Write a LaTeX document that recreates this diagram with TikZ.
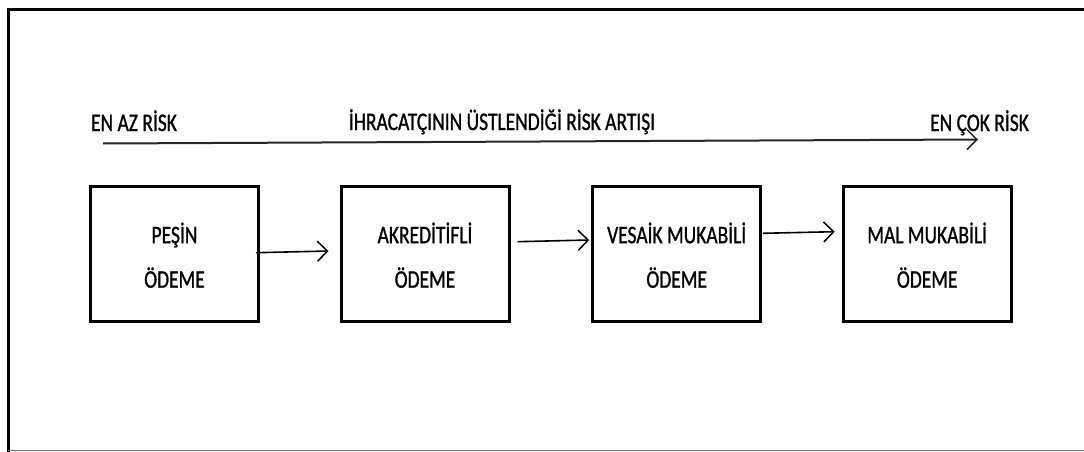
\documentclass[tikz,border=0pt]{standalone}
\usepackage{fontspec}
\setmainfont{Carlito}[FakeStretch=0.77,FakeBold=1]
\usetikzlibrary{arrows.meta,calc}
\begin{document}
\begin{tikzpicture}[x=1pt,y=-1pt,
  paybox/.style={draw=black,line width=3pt,minimum width=168pt,minimum height=135pt,
    inner sep=0pt,align=center,text height=68.4pt,text depth=0pt,
    font=\fontsize{25.3}{44.5}\selectfont},
  toplabel/.style={anchor=base,inner sep=0pt,font=\fontsize{25.3}{30}\selectfont},
  flow/.style={line width=1.6pt,-{Straight Barb[length=10pt,width=20pt,line width=1.5pt]}},
  riskline/.style={line width=2pt,black!85,-{Straight Barb[length=10pt,width=20pt,line width=1.5pt]}}]
  \useasboundingbox (0,0) rectangle (1084,452);
  \fill[white] (0,0) rectangle (1084,452);

  % outer frame (right side runs past the page edge)
  \draw[line width=3pt,line cap=rect] (1090,9.5) -- (8,9.5) -- (8,450.5);
  \draw[line width=1.5pt,black!55] (8,450.5) -- (1090,450.5);

  % risk scale
  \node[toplabel] (low)  at (134,131)   {EN AZ RİSK};
  \node[toplabel] (mid)  at (502,130)   {İHRACATÇININ ÜSTLENDİĞİ RİSK ARTIŞI};
  \node[toplabel] (high) at (979.5,131) {EN ÇOK RİSK};
  \coordinate (rs) at (103,143.5);
  \coordinate (re) at (978,139.5);
  \draw[riskline] (rs) -- (re);

  % payment methods
  \node[paybox] (pesin)   at (174.5,253.5) {PEŞİN\\ÖDEME};
  \node[paybox] (akred)   at (425,253.5)   {AKREDİTİFLİ\\ÖDEME};
  \node[paybox] (vesaik)  at (676.7,253.5) {VESAİK MUKABİLİ\\ÖDEME};
  \node[paybox] (mal)     at (927.2,253.5) {MAL MUKABİLİ\\ÖDEME};

  \draw[flow] ($(pesin.east)+(-4,-0.8)$) -- ($(akred.west)+(-11,-2.5)$);
  \draw[flow] ($(akred.east)+(7,-11.8)$) -- ($(vesaik.west)+(-2,-13.5)$);
  \draw[flow] ($(vesaik.east)+(1,-20.2)$) -- ($(mal.west)+(-7,-21.8)$);
\end{tikzpicture}
\end{document}
